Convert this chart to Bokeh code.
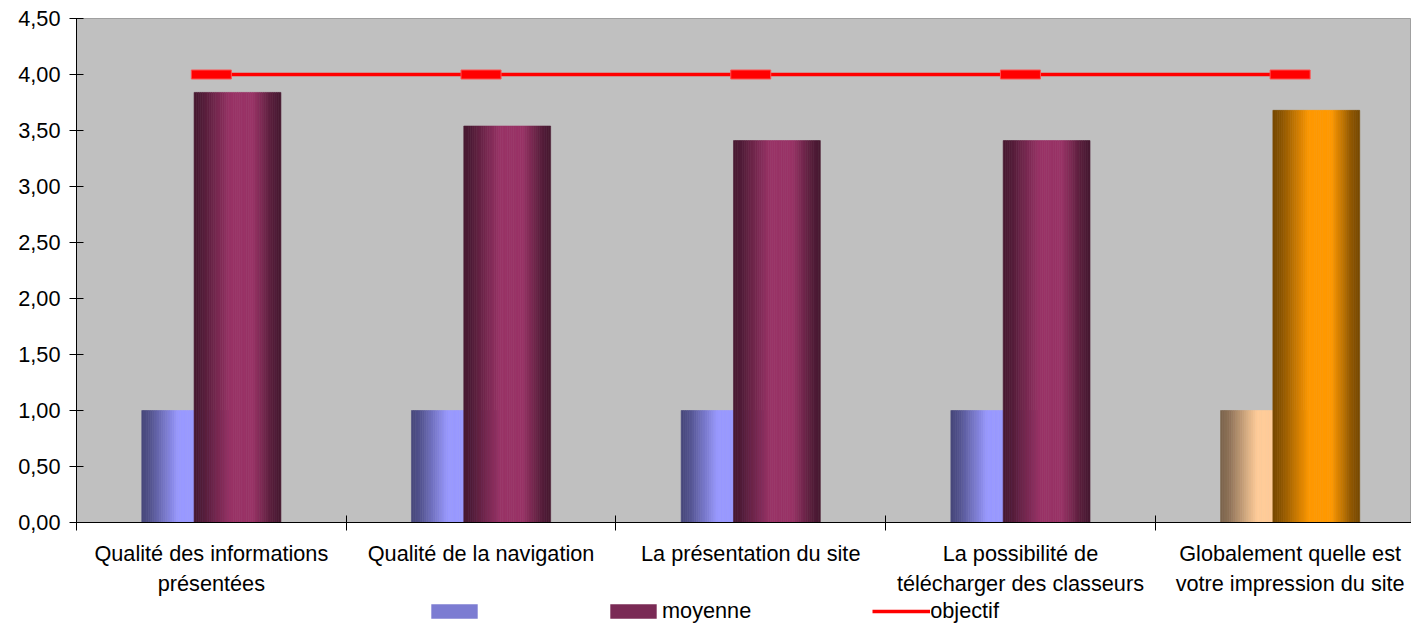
import numpy as np
from bokeh.plotting import figure
from bokeh.layouts import column
from bokeh.models import (ColumnDataSource, Range1d, FixedTicker, CustomJSTickFormatter,
                          Legend, LegendItem)
from bokeh.embed import file_html
from bokeh.resources import INLINE

# ---------------- data ----------------
categories = ["Qualité des informations\nprésentées",
              "Qualité de la navigation",
              "La présentation du site",
              "La possibilité de\ntélécharger des classeurs",
              "Globalement quelle est\nvotre impression du site"]
serie_base = [1.00, 1.00, 1.00, 1.00, 1.00]
moyenne = [3.84, 3.54, 3.41, 3.41, 3.68]
objectif = [4.00, 4.00, 4.00, 4.00, 4.00]
y_ticks = [0.0, 0.5, 1.0, 1.5, 2.0, 2.5, 3.0, 3.5, 4.0, 4.5]
legend_labels = ["", "moyenne", "objectif"]

# ---------------- styles ----------------
FONT = "Liberation Sans"
FSIZE = "21.7px"
blue = ((153, 153, 255), (70, 70, 122))
peach = ((255, 204, 153), (122, 98, 76))
maroon = ((153, 51, 102), (70, 24, 48))
orange = ((255, 153, 0), (118, 72, 0))
base_colors = [blue, blue, blue, blue, peach]
moy_colors = [maroon, maroon, maroon, maroon, orange]

BAR_W = 0.322
OFFSET = 0.097
N_STRIPS = 40
prof_t = [0.0, 0.1, 0.42, 0.68, 0.9, 1.0]
prof_v = [0.0, 0.15, 1.0, 1.0, 0.2, 0.0]


def shade(light, dark, t):
    f = float(np.interp(t, prof_t, prof_v))
    return "#%02x%02x%02x" % tuple(int(round(d + (l - d) * f)) for l, d in zip(light, dark))


def strip_source(values, offset, colors):
    xs, tops, cols = [], [], []
    w = BAR_W / N_STRIPS
    for i, v in enumerate(values):
        light, dark = colors[i]
        x0 = i + 0.5 + offset - BAR_W / 2
        for k in range(N_STRIPS):
            t = (k + 0.5) / N_STRIPS
            xs.append(x0 + (k + 0.5) * w)
            tops.append(v)
            cols.append(shade(light, dark, t))
    return ColumnDataSource(dict(x=xs, top=tops, color=cols)), w


p = figure(width=1411, height=598,
           x_range=Range1d(0, 4.95), y_range=Range1d(0, 4.5),
           output_backend="svg", toolbar_location=None,
           min_border_left=76, min_border_top=18, min_border_right=0,
           min_border_bottom=74)
p.background_fill_color = "#C0C0C0"
p.border_fill_color = "white"
p.outline_line_color = "#A0A0A0"
p.grid.visible = False

# bars (gradient via strips)
src_b, wb = strip_source(serie_base, -OFFSET, base_colors)
p.vbar(x="x", top="top", bottom=0, width=wb, source=src_b,
       fill_color="color", line_color="color", line_width=0.6)
src_m, wm = strip_source(moyenne, OFFSET, moy_colors)
p.vbar(x="x", top="top", bottom=0, width=wm, source=src_m,
       fill_color="color", line_color="color", line_width=0.6)

# objectif line + markers
centers = [i + 0.5 for i in range(len(categories))]
p.line(x=centers, y=objectif, line_color="#FF0000", line_width=3.5)
p.rect(x=centers, y=objectif, width=40, height=9, width_units="screen",
       height_units="screen", fill_color="#FF0000", line_color="#FF5050", line_width=1)

# axes
yax = p.yaxis[0]
yax.ticker = FixedTicker(ticks=y_ticks)
yax.formatter = CustomJSTickFormatter(code="return tick.toFixed(2).replace('.', ',');")
yax.major_tick_in = 7
yax.major_tick_out = 7
yax.minor_tick_line_color = None
yax.major_label_standoff = 9
yax.axis_line_color = "black"
yax.major_tick_line_color = "black"
yax.major_label_text_font = FONT
yax.major_label_text_font_size = FSIZE
yax.major_label_text_color = "black"

xax = p.xaxis[0]
xax.ticker = FixedTicker(ticks=centers, minor_ticks=[0, 1, 2, 3, 4, 5])
xax.formatter = CustomJSTickFormatter(args=dict(labels=categories),
                                      code="return labels[Math.round(tick - 0.5)];")
xax.major_tick_line_color = None
xax.major_tick_in = 0
xax.major_tick_out = 0
xax.minor_tick_line_color = "black"
xax.minor_tick_in = 7
xax.minor_tick_out = 8
xax.major_label_standoff = 10
xax.axis_line_color = "black"
xax.major_label_text_font = FONT
xax.major_label_text_font_size = FSIZE
xax.major_label_text_color = "black"

# ---------------- legend strip (separate small canvas) ----------------
# the series are drawn here only to feed the legend; the y range keeps them out of view
lf = figure(width=1411, height=26, x_range=Range1d(0, 5), y_range=Range1d(10, 11),
            output_backend="svg", toolbar_location=None, min_border=0,
            x_axis_type=None, y_axis_type=None)
lf.outline_line_color = None
lf.grid.visible = False
lf.background_fill_color = "white"
lf.border_fill_color = "white"
blue_proxy = lf.vbar(x=centers, top=serie_base, width=0.1,
                     fill_color="#7C7CD2", line_color=None)
maroon_proxy = lf.vbar(x=centers, top=moyenne, width=0.1,
                       fill_color="#7A2A55", line_color=None)
line_proxy = lf.line(x=centers, y=objectif, line_color="#FF0000", line_width=3.5)

legend = Legend(items=[LegendItem(label=legend_labels[0], renderers=[blue_proxy]),
                       LegendItem(label=legend_labels[1], renderers=[maroon_proxy]),
                       LegendItem(label=legend_labels[2], renderers=[line_proxy])],
                orientation="horizontal", location=(349, 0),
                glyph_width=58, glyph_height=18, label_width=0, label_standoff=0,
                spacing=121, label_text_font=FONT, label_text_font_size=FSIZE,
                label_text_color="black",
                border_line_color=None, background_fill_alpha=0, padding=0, margin=0)
lf.add_layout(legend, "center")

layout = column(p, lf, spacing=0)
open("out.html", "w").write(file_html(layout, INLINE))
